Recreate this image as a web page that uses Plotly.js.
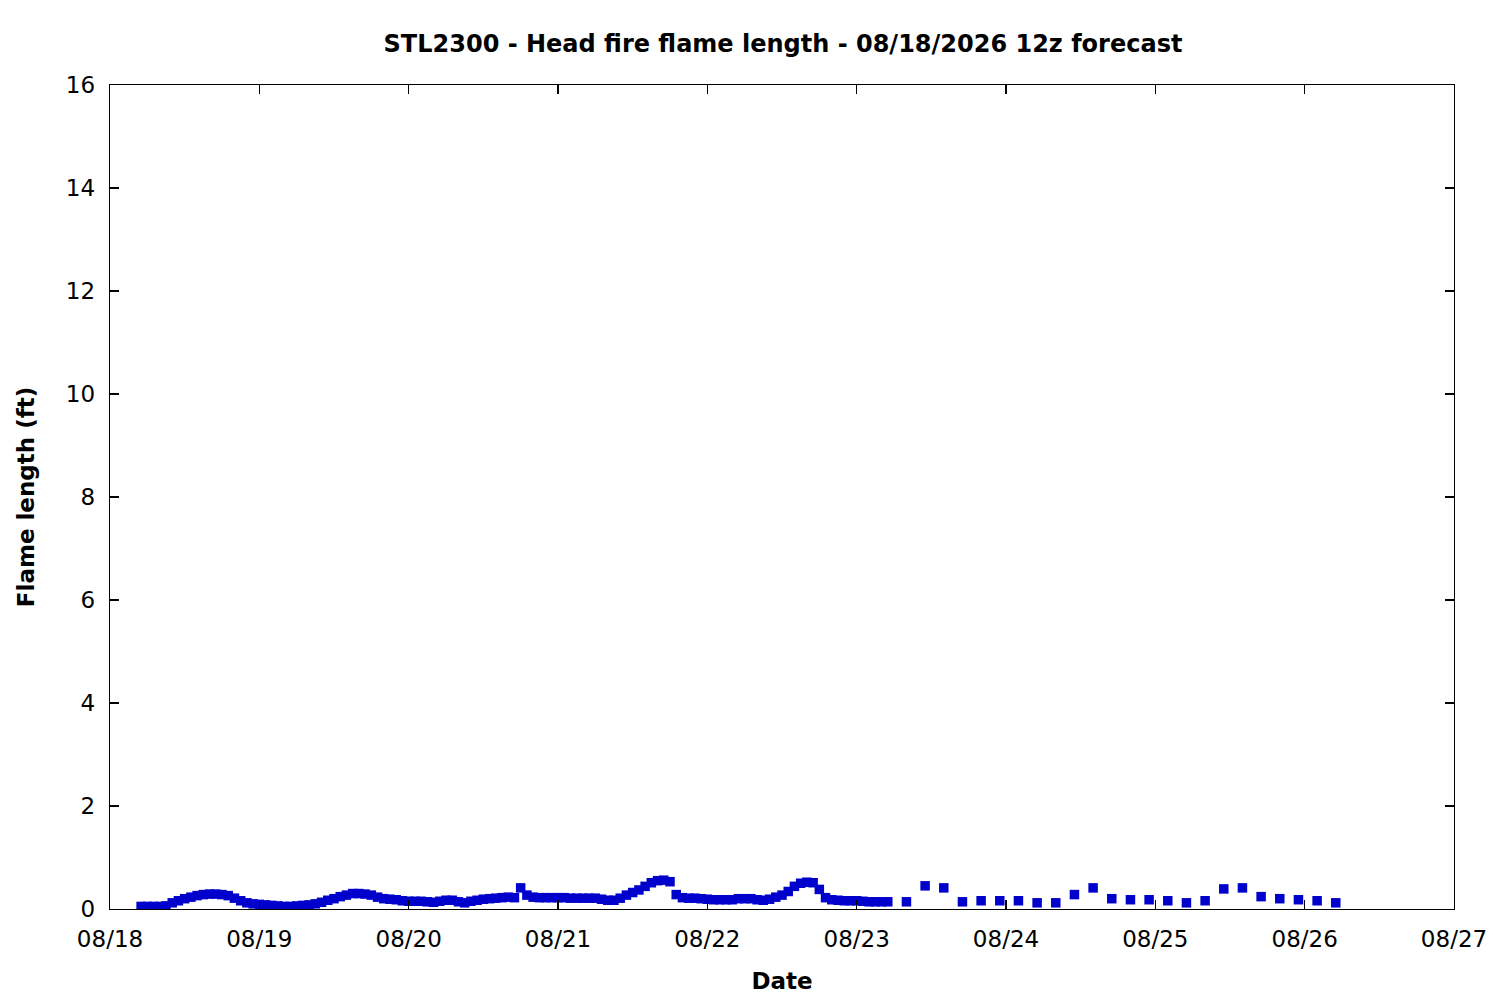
<!DOCTYPE html>
<html>
<head>
<meta charset="utf-8">
<script src="https://cdn.plot.ly/plotly-3.0.1.min.js"></script>
<style>html,body{margin:0;padding:0;background:#fff}#chart{width:1500px;height:1000px}</style>
</head>
<body>
<div id="chart"></div>
<script>
// Hourly values, starting 2026-08-18 05:00
var hourlyStart = "2026-08-18T05:00:00";
var hourlyValues = [
  0.05,0.05,0.05,0.05,0.06,0.12,0.16,0.20,0.23,0.26,0.28,0.29,0.29,0.28,0.26,0.21,0.16,0.12,0.10,0.09,0.08,0.07,0.06,0.05,
  0.05,0.06,0.07,0.08,0.10,0.13,0.17,0.20,0.24,0.27,0.30,0.30,0.29,0.27,0.23,0.20,0.19,0.18,0.16,0.15,0.15,0.15,0.14,0.13,
  0.15,0.17,0.17,0.14,0.12,0.15,0.17,0.19,0.20,0.21,0.22,0.23,0.22,0.41,0.27,0.23,0.22,0.22,0.22,0.22,0.22,0.21,0.21,0.21,
  0.21,0.21,0.19,0.17,0.17,0.21,0.27,0.32,0.37,0.44,0.51,0.55,0.56,0.53,0.28,0.22,0.21,0.21,0.20,0.19,0.18,0.18,0.18,0.18,
  0.20,0.20,0.20,0.18,0.17,0.19,0.23,0.27,0.34,0.44,0.50,0.52,0.51,0.38,0.22,0.18,0.17,0.16,0.16,0.16,0.15,0.14,0.14,0.14,
  0.14
];
// 3-hourly values, starting 2026-08-23 08:00
var threeHourlyStart = "2026-08-23T08:00:00";
var threeHourlyValues = [
  0.14,0.45,0.41,0.14,0.16,0.16,0.16,0.12,
  0.12,0.28,0.41,0.20,0.18,0.18,0.16,0.12,
  0.16,0.39,0.41,0.24,0.20,0.18,0.16,0.12
];
var xTickVals = ["2026-08-18","2026-08-19","2026-08-20","2026-08-21","2026-08-22","2026-08-23","2026-08-24","2026-08-25","2026-08-26","2026-08-27"];
var xTickText = ["08/18","08/19","08/20","08/21","08/22","08/23","08/24","08/25","08/26","08/27"];

function pad(n){return (n<10?"0":"")+n;}
function timeSeries(start, stepHours, count){
  var out=[]; var t=new Date(start+"Z").getTime();
  for(var i=0;i<count;i++){
    var d=new Date(t+i*stepHours*3600000);
    out.push(d.getUTCFullYear()+"-"+pad(d.getUTCMonth()+1)+"-"+pad(d.getUTCDate())+" "+pad(d.getUTCHours())+":00");
  }
  return out;
}
var xs = timeSeries(hourlyStart,1,hourlyValues.length).concat(timeSeries(threeHourlyStart,3,threeHourlyValues.length));
var ys = hourlyValues.concat(threeHourlyValues);

var font = "DejaVu Sans, sans-serif";
var trace = {
  x: xs, y: ys, type: "scatter", mode: "markers",
  marker: {symbol: "square", size: 9.5, color: "#0000cc", line: {width: 0}},
  hoverinfo: "x+y", showlegend: false
};
var axisCommon = {
  showgrid: false, zeroline: false, showline: true, linecolor: "#000", linewidth: 1.3,
  mirror: "ticks", ticks: "inside", ticklen: 9, tickwidth: 1.2, tickcolor: "#000",
  tickfont: {family: font, size: 23, color: "#000"}
};
var layout = {
  width: 1500, height: 1000,
  margin: {l: 110, r: 46, t: 85, b: 91},
  paper_bgcolor: "#fff", plot_bgcolor: "#fff",
  title: {text: "<b>STL2300 - Head fire flame length - 08/18/2026 12z forecast</b>", font: {family: font, size: 24, color: "#000"}, x: 0.522, xanchor: "center", y: 0.956, yanchor: "middle"},
  xaxis: Object.assign({}, axisCommon, {
    type: "date", range: ["2026-08-18", "2026-08-27"],
    tickmode: "array", tickvals: xTickVals, ticktext: xTickText,
    ticklabelstandoff: 9,
    title: {text: "<b>Date</b>", font: {family: font, size: 23, color: "#000"}, standoff: 22}
  }),
  yaxis: Object.assign({}, axisCommon, {
    range: [0, 16], tickmode: "linear", tick0: 0, dtick: 2,
    ticklabelstandoff: 9,
    title: {text: "<b>Flame length (ft)</b>", font: {family: font, size: 23, color: "#000"}, standoff: 24}
  })
};
Plotly.newPlot("chart", [trace], layout, {displayModeBar: false, staticPlot: true});
</script>
</body>
</html>
